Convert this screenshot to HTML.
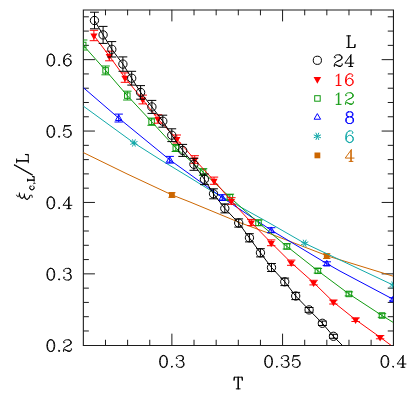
<!DOCTYPE html>
<html><head><meta charset="utf-8"><title>plot</title>
<style>
html,body{margin:0;padding:0;background:#fff;}
svg{display:block;font-family:"Liberation Serif",serif;}
</style></head><body>
<svg width="415" height="415" viewBox="0 0 415 415" role="img" aria-label="Plot of xi_c,L / L versus T for L = 24, 16, 12, 8, 6, 4">
<desc>Finite-size scaling plot: correlation length xi_c,L divided by L as a function of temperature T (0.26 to 0.40), y from 0.2 to 0.67, for lattice sizes L = 24, 16, 12, 8, 6 and 4 with fitted curves crossing near T = 0.32.</desc>
<rect width="415" height="415" fill="#ffffff"/>
<path fill="none" stroke="#1c1c1c" stroke-width="1.1" stroke-linecap="square" d="M83.35 10.00H393.45M83.35 345.50H393.45M83.35 10.00V345.50M393.45 10.00V345.50"/>
<path fill="none" stroke="#1c1c1c" stroke-width="1.0" d="M105.49 345.25v-5.50M105.49 9.80v5.50M127.62 345.25v-5.50M127.62 9.80v5.50M149.76 345.25v-5.50M149.76 9.80v5.50M171.89 345.25v-11.60M171.89 9.80v11.60M194.03 345.25v-5.50M194.03 9.80v5.50M216.16 345.25v-5.50M216.16 9.80v5.50M238.30 345.25v-5.50M238.30 9.80v5.50M260.44 345.25v-5.50M260.44 9.80v5.50M282.57 345.25v-11.60M282.57 9.80v11.60M304.71 345.25v-5.50M304.71 9.80v5.50M326.84 345.25v-5.50M326.84 9.80v5.50M348.98 345.25v-5.50M348.98 9.80v5.50M371.11 345.25v-5.50M371.11 9.80v5.50M83.35 330.97h5.50M393.25 330.97h-5.50M83.35 316.69h5.50M393.25 316.69h-5.50M83.35 302.41h5.50M393.25 302.41h-5.50M83.35 288.13h5.50M393.25 288.13h-5.50M83.35 273.85h11.60M393.25 273.85h-11.60M83.35 259.57h5.50M393.25 259.57h-5.50M83.35 245.29h5.50M393.25 245.29h-5.50M83.35 231.01h5.50M393.25 231.01h-5.50M83.35 216.73h5.50M393.25 216.73h-5.50M83.35 202.45h11.60M393.25 202.45h-11.60M83.35 188.17h5.50M393.25 188.17h-5.50M83.35 173.89h5.50M393.25 173.89h-5.50M83.35 159.61h5.50M393.25 159.61h-5.50M83.35 145.33h5.50M393.25 145.33h-5.50M83.35 131.05h11.60M393.25 131.05h-11.60M83.35 116.77h5.50M393.25 116.77h-5.50M83.35 102.49h5.50M393.25 102.49h-5.50M83.35 88.21h5.50M393.25 88.21h-5.50M83.35 73.93h5.50M393.25 73.93h-5.50M83.35 59.65h11.60M393.25 59.65h-11.60M83.35 45.37h5.50M393.25 45.37h-5.50M83.35 31.09h5.50M393.25 31.09h-5.50M83.35 16.81h5.50M393.25 16.81h-5.50"/>
<clipPath id="cp"><rect x="83.3" y="9.8" width="309.9" height="335.4"/></clipPath>
<g clip-path="url(#cp)">
<polyline fill="none" stroke="#cc6600" stroke-width="1.00" points="83.2,152.5 127.0,173.9 171.9,194.9 190.0,202.0 240.0,222.7 270.0,233.7 320.0,253.0 327.1,255.8 393.2,276.2"/>
<path fill="none" stroke="#cc6600" stroke-width="1.00" d="M171.9 192.7V197.3M168.3 192.7H175.5M168.3 197.3H175.5"/>
<rect x="169.00" y="192.10" width="5.80" height="5.80" fill="#cc6600"/>
<path fill="none" stroke="#cc6600" stroke-width="1.00" d="M326.8 253.8V258.5M323.1 253.8H330.4M323.1 258.5H330.4"/>
<rect x="323.85" y="253.20" width="5.80" height="5.80" fill="#cc6600"/>
<polyline fill="none" stroke="#10a8a8" stroke-width="1.00" points="83.2,106.0 105.0,121.9 133.9,142.9 160.0,159.5 190.0,177.7 212.0,191.3 240.0,206.7 270.0,223.4 304.7,243.3 320.0,250.5 393.2,285.1"/>
<path fill="none" stroke="#10a8a8" stroke-width="1" d="M130.30 141.46L137.50 144.44M132.41 139.35L135.39 146.55M135.39 139.35L132.41 146.55M137.50 141.46L130.30 144.44"/>
<path fill="none" stroke="#10a8a8" stroke-width="1" d="M301.10 241.81L308.30 244.79M303.21 239.70L306.19 246.90M306.19 239.70L303.21 246.90M308.30 241.81L301.10 244.79"/>
<path fill="none" stroke="#10a8a8" stroke-width="1" d="M389.60 283.61L396.80 286.59M391.71 281.50L394.69 288.70M394.69 281.50L391.71 288.70M396.80 283.61L389.60 286.59"/>
<polyline fill="none" stroke="#0000ff" stroke-width="1.00" points="83.2,87.5 118.7,118.1 169.7,159.8 222.3,197.6 271.2,230.2 326.8,263.6 340.0,271.1 393.2,299.3"/>
<path fill="none" stroke="#0000ff" stroke-width="1.00" d="M118.7 114.1V122.0M114.5 114.1H122.9M114.5 122.0H122.9"/>
<path fill="none" stroke="#0000ff" stroke-width="1" stroke-linejoin="miter" d="M115.45 120.47L121.95 120.47L118.70 114.85Z"/>
<path fill="none" stroke="#0000ff" stroke-width="1.00" d="M169.7 156.4V163.1M165.5 156.4H173.9M165.5 163.1H173.9"/>
<path fill="none" stroke="#0000ff" stroke-width="1" stroke-linejoin="miter" d="M166.45 162.12L172.95 162.12L169.70 156.50Z"/>
<path fill="none" stroke="#0000ff" stroke-width="1.00" d="M222.3 194.7V200.5M218.1 194.7H226.5M218.1 200.5H226.5"/>
<path fill="none" stroke="#0000ff" stroke-width="1" stroke-linejoin="miter" d="M219.05 199.97L225.55 199.97L222.30 194.35Z"/>
<path fill="none" stroke="#0000ff" stroke-width="1.00" d="M271.2 227.7V232.7M267.0 227.7H275.4M267.0 232.7H275.4"/>
<path fill="none" stroke="#0000ff" stroke-width="1" stroke-linejoin="miter" d="M267.95 232.57L274.45 232.57L271.20 226.95Z"/>
<path fill="none" stroke="#0000ff" stroke-width="1.00" d="M326.8 261.8V265.4M322.6 261.8H331.0M322.6 265.4H331.0"/>
<path fill="none" stroke="#0000ff" stroke-width="1" stroke-linejoin="miter" d="M323.55 265.98L330.05 265.98L326.80 260.35Z"/>
<path fill="none" stroke="#0000ff" stroke-width="1.00" d="M393.2 297.7V300.9M389.0 297.7H397.4M389.0 300.9H397.4"/>
<path fill="none" stroke="#0000ff" stroke-width="1" stroke-linejoin="miter" d="M389.95 301.68L396.45 301.68L393.20 296.05Z"/>
<polyline fill="none" stroke="#109a10" stroke-width="1.00" points="83.2,45.2 105.6,70.4 127.3,95.6 151.6,121.7 175.8,148.0 203.1,172.0 229.9,197.3 258.5,222.8 286.9,246.4 317.9,270.8 348.9,293.9 382.0,315.5 393.2,322.4"/>
<path fill="none" stroke="#109a10" stroke-width="1.00" d="M83.2 40.0V50.0M79.0 40.0H87.4M79.0 50.0H87.4"/>
<rect x="80.45" y="42.25" width="5.50" height="5.50" fill="none" stroke="#109a10" stroke-width="1"/>
<path fill="none" stroke="#109a10" stroke-width="1.00" d="M105.6 66.0V74.8M101.4 66.0H109.8M101.4 74.8H109.8"/>
<rect x="102.85" y="67.65" width="5.50" height="5.50" fill="none" stroke="#109a10" stroke-width="1"/>
<path fill="none" stroke="#109a10" stroke-width="1.00" d="M127.3 91.2V100.0M123.1 91.2H131.5M123.1 100.0H131.5"/>
<rect x="124.55" y="92.85" width="5.50" height="5.50" fill="none" stroke="#109a10" stroke-width="1"/>
<path fill="none" stroke="#109a10" stroke-width="1.00" d="M151.6 118.1V125.3M147.4 118.1H155.8M147.4 125.3H155.8"/>
<rect x="148.85" y="118.95" width="5.50" height="5.50" fill="none" stroke="#109a10" stroke-width="1"/>
<path fill="none" stroke="#109a10" stroke-width="1.00" d="M175.8 144.5V151.5M171.6 144.5H180.0M171.6 151.5H180.0"/>
<rect x="173.05" y="145.25" width="5.50" height="5.50" fill="none" stroke="#109a10" stroke-width="1"/>
<path fill="none" stroke="#109a10" stroke-width="1.00" d="M203.1 168.7V175.3M198.9 168.7H207.3M198.9 175.3H207.3"/>
<rect x="200.35" y="169.25" width="5.50" height="5.50" fill="none" stroke="#109a10" stroke-width="1"/>
<path fill="none" stroke="#109a10" stroke-width="1.00" d="M229.9 194.2V200.4M225.7 194.2H234.1M225.7 200.4H234.1"/>
<rect x="227.15" y="194.55" width="5.50" height="5.50" fill="none" stroke="#109a10" stroke-width="1"/>
<path fill="none" stroke="#109a10" stroke-width="1.00" d="M258.5 219.9V225.7M254.3 219.9H262.7M254.3 225.7H262.7"/>
<rect x="255.75" y="220.05" width="5.50" height="5.50" fill="none" stroke="#109a10" stroke-width="1"/>
<path fill="none" stroke="#109a10" stroke-width="1.00" d="M286.9 243.8V249.0M282.7 243.8H291.1M282.7 249.0H291.1"/>
<rect x="284.15" y="243.65" width="5.50" height="5.50" fill="none" stroke="#109a10" stroke-width="1"/>
<path fill="none" stroke="#109a10" stroke-width="1.00" d="M317.9 268.5V273.1M313.7 268.5H322.1M313.7 273.1H322.1"/>
<rect x="315.15" y="268.05" width="5.50" height="5.50" fill="none" stroke="#109a10" stroke-width="1"/>
<path fill="none" stroke="#109a10" stroke-width="1.00" d="M348.9 291.9V295.9M344.7 291.9H353.1M344.7 295.9H353.1"/>
<rect x="346.15" y="291.20" width="5.50" height="5.50" fill="none" stroke="#109a10" stroke-width="1"/>
<path fill="none" stroke="#109a10" stroke-width="1.00" d="M382.0 313.7V317.3M377.8 313.7H386.2M377.8 317.3H386.2"/>
<rect x="379.25" y="312.75" width="5.50" height="5.50" fill="none" stroke="#109a10" stroke-width="1"/>
<polyline fill="none" stroke="#ff0000" stroke-width="1.00" points="93.9,35.5 109.3,56.0 124.9,77.6 142.7,99.5 158.0,119.0 176.8,139.0 194.7,159.5 214.0,180.7 231.4,201.0 251.3,222.5 271.2,242.8 291.2,262.7 313.6,282.6 333.4,302.0 355.6,319.7 380.1,337.2 391.0,345.3"/>
<path fill="none" stroke="#ff0000" stroke-width="1.00" d="M93.9 30.3V40.7M89.7 30.3H98.1M89.7 40.7H98.1"/>
<path fill="#ff0000" d="M90.31 33.62L97.49 33.62L93.90 39.85Z"/>
<path fill="none" stroke="#ff0000" stroke-width="1.00" d="M109.3 51.2V60.8M105.1 51.2H113.5M105.1 60.8H113.5"/>
<path fill="#ff0000" d="M105.71 54.12L112.89 54.12L109.30 60.35Z"/>
<path fill="none" stroke="#ff0000" stroke-width="1.00" d="M124.9 72.9V82.3M120.7 72.9H129.1M120.7 82.3H129.1"/>
<path fill="#ff0000" d="M121.31 75.72L128.49 75.72L124.90 81.95Z"/>
<path fill="none" stroke="#ff0000" stroke-width="1.00" d="M142.7 95.1V103.9M138.5 95.1H146.9M138.5 103.9H146.9"/>
<path fill="#ff0000" d="M139.11 97.62L146.29 97.62L142.70 103.85Z"/>
<path fill="none" stroke="#ff0000" stroke-width="1.00" d="M158.0 114.8V123.2M153.8 114.8H162.2M153.8 123.2H162.2"/>
<path fill="#ff0000" d="M154.41 117.12L161.59 117.12L158.00 123.35Z"/>
<path fill="none" stroke="#ff0000" stroke-width="1.00" d="M176.8 135.0V143.0M172.6 135.0H181.0M172.6 143.0H181.0"/>
<path fill="#ff0000" d="M173.21 137.12L180.39 137.12L176.80 143.35Z"/>
<path fill="none" stroke="#ff0000" stroke-width="1.00" d="M194.7 155.7V163.3M190.5 155.7H198.9M190.5 163.3H198.9"/>
<path fill="#ff0000" d="M191.11 157.62L198.29 157.62L194.70 163.85Z"/>
<path fill="none" stroke="#ff0000" stroke-width="1.00" d="M214.0 177.1V184.3M209.8 177.1H218.2M209.8 184.3H218.2"/>
<path fill="#ff0000" d="M210.41 178.82L217.59 178.82L214.00 185.05Z"/>
<path fill="none" stroke="#ff0000" stroke-width="1.00" d="M231.4 197.7V204.3M227.2 197.7H235.6M227.2 204.3H235.6"/>
<path fill="#ff0000" d="M227.81 199.12L234.99 199.12L231.40 205.35Z"/>
<path fill="none" stroke="#ff0000" stroke-width="1.00" d="M251.3 219.4V225.6M247.1 219.4H255.5M247.1 225.6H255.5"/>
<path fill="#ff0000" d="M247.71 220.62L254.89 220.62L251.30 226.85Z"/>
<path fill="none" stroke="#ff0000" stroke-width="1.00" d="M271.2 239.9V245.7M267.0 239.9H275.4M267.0 245.7H275.4"/>
<path fill="#ff0000" d="M267.61 240.93L274.79 240.93L271.20 247.15Z"/>
<path fill="none" stroke="#ff0000" stroke-width="1.00" d="M291.2 260.1V265.3M287.0 260.1H295.4M287.0 265.3H295.4"/>
<path fill="#ff0000" d="M287.61 260.82L294.79 260.82L291.20 267.05Z"/>
<path fill="none" stroke="#ff0000" stroke-width="1.00" d="M313.6 280.3V284.9M309.4 280.3H317.8M309.4 284.9H317.8"/>
<path fill="#ff0000" d="M310.01 280.73L317.19 280.73L313.60 286.95Z"/>
<path fill="none" stroke="#ff0000" stroke-width="1.00" d="M333.4 300.0V304.0M329.2 300.0H337.6M329.2 304.0H337.6"/>
<path fill="#ff0000" d="M329.81 300.12L336.99 300.12L333.40 306.35Z"/>
<path fill="none" stroke="#ff0000" stroke-width="1.00" d="M355.6 317.9V321.5M351.4 317.9H359.8M351.4 321.5H359.8"/>
<path fill="#ff0000" d="M352.01 317.82L359.19 317.82L355.60 324.05Z"/>
<path fill="none" stroke="#ff0000" stroke-width="1.00" d="M380.1 335.6V338.8M375.9 335.6H384.3M375.9 338.8H384.3"/>
<path fill="#ff0000" d="M376.51 335.32L383.69 335.32L380.10 341.55Z"/>
<polyline fill="none" stroke="#000000" stroke-width="1.00" points="94.5,20.5 103.1,34.9 111.8,49.3 122.9,64.1 131.7,78.2 140.6,92.4 151.9,106.9 162.8,121.2 171.8,135.2 182.7,150.4 193.9,164.3 204.4,179.3 213.5,193.8 224.8,208.4 238.7,223.0 249.4,237.8 260.4,252.8 271.5,267.5 284.8,281.8 295.7,296.0 309.1,309.9 322.4,323.3 333.4,336.3 342.3,345.3"/>
<path fill="none" stroke="#000000" stroke-width="1.00" d="M94.5 12.2V28.8M90.0 12.2H98.9M90.0 28.8H98.9"/>
<circle cx="94.45" cy="20.50" r="4.15" fill="none" stroke="#000000" stroke-width="1"/>
<path fill="none" stroke="#000000" stroke-width="1.00" d="M103.1 26.4V43.4M98.7 26.4H107.5M98.7 43.4H107.5"/>
<circle cx="103.10" cy="34.90" r="4.15" fill="none" stroke="#000000" stroke-width="1"/>
<path fill="none" stroke="#000000" stroke-width="1.00" d="M111.8 41.6V57.0M107.4 41.6H116.2M107.4 57.0H116.2"/>
<circle cx="111.80" cy="49.30" r="4.15" fill="none" stroke="#000000" stroke-width="1"/>
<path fill="none" stroke="#000000" stroke-width="1.00" d="M122.9 56.9V71.3M118.5 56.9H127.3M118.5 71.3H127.3"/>
<circle cx="122.90" cy="64.10" r="4.15" fill="none" stroke="#000000" stroke-width="1"/>
<path fill="none" stroke="#000000" stroke-width="1.00" d="M131.7 71.3V85.1M127.3 71.3H136.1M127.3 85.1H136.1"/>
<circle cx="131.70" cy="78.20" r="4.15" fill="none" stroke="#000000" stroke-width="1"/>
<path fill="none" stroke="#000000" stroke-width="1.00" d="M140.6 85.6V99.2M136.2 85.6H145.0M136.2 99.2H145.0"/>
<circle cx="140.60" cy="92.40" r="4.15" fill="none" stroke="#000000" stroke-width="1"/>
<path fill="none" stroke="#000000" stroke-width="1.00" d="M151.9 100.4V113.4M147.5 100.4H156.3M147.5 113.4H156.3"/>
<circle cx="151.90" cy="106.90" r="4.15" fill="none" stroke="#000000" stroke-width="1"/>
<path fill="none" stroke="#000000" stroke-width="1.00" d="M162.8 115.2V127.2M158.4 115.2H167.2M158.4 127.2H167.2"/>
<circle cx="162.80" cy="121.20" r="4.15" fill="none" stroke="#000000" stroke-width="1"/>
<path fill="none" stroke="#000000" stroke-width="1.00" d="M171.8 128.8V141.6M167.3 128.8H176.2M167.3 141.6H176.2"/>
<circle cx="171.75" cy="135.20" r="4.15" fill="none" stroke="#000000" stroke-width="1"/>
<path fill="none" stroke="#000000" stroke-width="1.00" d="M182.7 144.4V156.4M178.3 144.4H187.1M178.3 156.4H187.1"/>
<circle cx="182.70" cy="150.40" r="4.15" fill="none" stroke="#000000" stroke-width="1"/>
<path fill="none" stroke="#000000" stroke-width="1.00" d="M193.9 158.3V170.3M189.5 158.3H198.3M189.5 170.3H198.3"/>
<circle cx="193.90" cy="164.30" r="4.15" fill="none" stroke="#000000" stroke-width="1"/>
<path fill="none" stroke="#000000" stroke-width="1.00" d="M204.4 174.0V184.6M200.0 174.0H208.8M200.0 184.6H208.8"/>
<circle cx="204.40" cy="179.30" r="4.15" fill="none" stroke="#000000" stroke-width="1"/>
<path fill="none" stroke="#000000" stroke-width="1.00" d="M213.5 188.8V198.8M209.1 188.8H217.9M209.1 198.8H217.9"/>
<circle cx="213.50" cy="193.80" r="4.15" fill="none" stroke="#000000" stroke-width="1"/>
<path fill="none" stroke="#000000" stroke-width="1.00" d="M224.8 203.9V212.9M220.4 203.9H229.2M220.4 212.9H229.2"/>
<circle cx="224.80" cy="208.40" r="4.15" fill="none" stroke="#000000" stroke-width="1"/>
<path fill="none" stroke="#000000" stroke-width="1.00" d="M238.7 218.9V227.1M234.3 218.9H243.1M234.3 227.1H243.1"/>
<circle cx="238.70" cy="223.00" r="4.15" fill="none" stroke="#000000" stroke-width="1"/>
<path fill="none" stroke="#000000" stroke-width="1.00" d="M249.4 233.7V241.9M245.0 233.7H253.8M245.0 241.9H253.8"/>
<circle cx="249.45" cy="237.80" r="4.15" fill="none" stroke="#000000" stroke-width="1"/>
<path fill="none" stroke="#000000" stroke-width="1.00" d="M260.4 248.7V256.9M256.1 248.7H264.8M256.1 256.9H264.8"/>
<circle cx="260.45" cy="252.80" r="4.15" fill="none" stroke="#000000" stroke-width="1"/>
<path fill="none" stroke="#000000" stroke-width="1.00" d="M271.5 263.5V271.5M267.1 263.5H275.9M267.1 271.5H275.9"/>
<circle cx="271.50" cy="267.50" r="4.15" fill="none" stroke="#000000" stroke-width="1"/>
<path fill="none" stroke="#000000" stroke-width="1.00" d="M284.8 278.1V285.6M280.4 278.1H289.1M280.4 285.6H289.1"/>
<circle cx="284.75" cy="281.80" r="4.15" fill="none" stroke="#000000" stroke-width="1"/>
<path fill="none" stroke="#000000" stroke-width="1.00" d="M295.7 292.4V299.6M291.3 292.4H300.1M291.3 299.6H300.1"/>
<circle cx="295.70" cy="296.00" r="4.15" fill="none" stroke="#000000" stroke-width="1"/>
<path fill="none" stroke="#000000" stroke-width="1.00" d="M309.1 307.5V312.3M304.7 307.5H313.5M304.7 312.3H313.5"/>
<circle cx="309.10" cy="309.90" r="4.15" fill="none" stroke="#000000" stroke-width="1"/>
<path fill="none" stroke="#000000" stroke-width="1.00" d="M322.4 321.1V325.5M318.0 321.1H326.8M318.0 325.5H326.8"/>
<circle cx="322.35" cy="323.30" r="4.15" fill="none" stroke="#000000" stroke-width="1"/>
<path fill="none" stroke="#000000" stroke-width="1.00" d="M333.4 334.3V338.3M329.1 334.3H337.8M329.1 338.3H337.8"/>
<circle cx="333.45" cy="336.30" r="4.15" fill="none" stroke="#000000" stroke-width="1"/>
</g>
<circle cx="317.35" cy="60.30" r="4.10" fill="none" stroke="#000000" stroke-width="1"/>
<path fill="#ff0000" d="M313.54 77.10L321.16 77.10L317.35 83.70Z"/>
<rect x="314.70" y="95.70" width="5.50" height="5.50" fill="none" stroke="#109a10" stroke-width="1"/>
<path fill="none" stroke="#0000ff" stroke-width="1" stroke-linejoin="miter" d="M314.10 119.22L320.60 119.22L317.35 113.60Z"/>
<path fill="none" stroke="#10a8a8" stroke-width="1" d="M313.75 134.86L320.95 137.84M315.86 132.75L318.84 139.95M318.84 132.75L315.86 139.95M320.95 134.86L313.75 137.84"/>
<rect x="314.50" y="152.50" width="5.80" height="5.80" fill="#cc6600"/>
<path fill="none" stroke="#000000" stroke-width="0.95" stroke-linecap="round" stroke-linejoin="round" d="M162.97 355.64L161.31 356.2L160.19 357.87L159.64 360.64L159.64 362.31L160.19 365.08L161.31 366.75L162.97 367.3L164.08 367.3L165.75 366.75L166.85 365.08L167.41 362.31L167.41 360.64L166.85 357.87L165.75 356.2L164.08 355.64L162.97 355.64M162.97 355.64L161.86 356.2L161.31 356.75L160.75 357.87L160.19 360.64L160.19 362.31L160.75 365.08L161.31 366.19L161.86 366.75L162.97 367.3M164.08 367.3L165.19 366.75L165.75 366.19L166.3 365.08L166.85 362.31L166.85 360.64L166.3 357.87L165.75 356.75L165.19 356.2L164.08 355.64M171.85 366.19L171.29 366.75L171.85 367.3L172.41 366.75L171.85 366.19M176.84 357.87L177.4 358.42L176.84 358.98L176.29 358.42L176.29 357.87L176.84 356.75L177.4 356.2L179.06 355.64L181.28 355.64L182.95 356.2L183.5 357.31L183.5 358.98L182.95 360.09L181.28 360.64L179.62 360.64M181.28 355.64L182.39 356.2L182.95 357.31L182.95 358.98L182.39 360.09L181.28 360.64M181.28 360.64L182.39 361.19L183.5 362.31L184.06 363.42L184.06 365.08L183.5 366.19L182.95 366.75L181.28 367.3L179.06 367.3L177.4 366.75L176.84 366.19L176.29 365.08L176.29 364.53L176.84 363.97L177.4 364.53L176.84 365.08M182.95 361.75L183.5 363.42L183.5 365.08L182.95 366.19L182.39 366.75L181.28 367.3"/>
<circle cx="171.85" cy="366.75" r="0.80" fill="#000000"/>
<path fill="none" stroke="#000000" stroke-width="0.95" stroke-linecap="round" stroke-linejoin="round" d="M268.02 355.64L266.36 356.2L265.25 357.87L264.69 360.64L264.69 362.31L265.25 365.08L266.36 366.75L268.02 367.3L269.13 367.3L270.79 366.75L271.9 365.08L272.46 362.31L272.46 360.64L271.9 357.87L270.79 356.2L269.13 355.64L268.02 355.64M268.02 355.64L266.91 356.2L266.36 356.75L265.8 357.87L265.25 360.64L265.25 362.31L265.8 365.08L266.36 366.19L266.91 366.75L268.02 367.3M269.13 367.3L270.24 366.75L270.79 366.19L271.35 365.08L271.9 362.31L271.9 360.64L271.35 357.87L270.79 356.75L270.24 356.2L269.13 355.64M276.9 366.19L276.34 366.75L276.9 367.3L277.45 366.75L276.9 366.19M281.89 357.87L282.45 358.42L281.89 358.98L281.34 358.42L281.34 357.87L281.89 356.75L282.45 356.2L284.12 355.64L286.33 355.64L288 356.2L288.56 357.31L288.56 358.98L288 360.09L286.33 360.64L284.67 360.64M286.33 355.64L287.44 356.2L288 357.31L288 358.98L287.44 360.09L286.33 360.64M286.33 360.64L287.44 361.19L288.56 362.31L289.11 363.42L289.11 365.08L288.56 366.19L288 366.75L286.33 367.3L284.12 367.3L282.45 366.75L281.89 366.19L281.34 365.08L281.34 364.53L281.89 363.97L282.45 364.53L281.89 365.08M288 361.75L288.56 363.42L288.56 365.08L288 366.19L287.44 366.75L286.33 367.3M293.55 355.64L292.44 361.19M292.44 361.19L293.55 360.09L295.21 359.53L296.88 359.53L298.55 360.09L299.65 361.19L300.21 362.86L300.21 363.97L299.65 365.63L298.55 366.75L296.88 367.3L295.21 367.3L293.55 366.75L293 366.19L292.44 365.08L292.44 364.53L293 363.97L293.55 364.53L293 365.08M296.88 359.53L297.99 360.09L299.1 361.19L299.65 362.86L299.65 363.97L299.1 365.63L297.99 366.75L296.88 367.3M293.55 355.64L299.1 355.64M293.55 356.2L296.32 356.2L299.1 355.64"/>
<circle cx="276.90" cy="366.75" r="0.80" fill="#000000"/>
<path fill="none" stroke="#000000" stroke-width="0.95" stroke-linecap="round" stroke-linejoin="round" d="M384.32 355.64L382.65 356.2L381.54 357.87L380.99 360.64L380.99 362.31L381.54 365.08L382.65 366.75L384.32 367.3L385.43 367.3L387.09 366.75L388.2 365.08L388.76 362.31L388.76 360.64L388.2 357.87L387.09 356.2L385.43 355.64L384.32 355.64M384.32 355.64L383.21 356.2L382.65 356.75L382.1 357.87L381.54 360.64L381.54 362.31L382.1 365.08L382.65 366.19L383.21 366.75L384.32 367.3M385.43 367.3L386.54 366.75L387.09 366.19L387.65 365.08L388.2 362.31L388.2 360.64L387.65 357.87L387.09 356.75L386.54 356.2L385.43 355.64M393.2 366.19L392.64 366.75L393.2 367.3L393.75 366.75L393.2 366.19M402.63 356.75L402.63 367.3M403.19 355.64L403.19 367.3M403.19 355.64L397.08 363.97L405.96 363.97M400.97 367.3L404.86 367.3"/>
<circle cx="393.20" cy="366.75" r="0.80" fill="#000000"/>
<path fill="none" stroke="#000000" stroke-width="0.95" stroke-linecap="round" stroke-linejoin="round" d="M50.24 339.79L48.58 340.35L47.47 342.01L46.91 344.79L46.91 346.45L47.47 349.23L48.58 350.89L50.24 351.45L51.35 351.45L53.02 350.89L54.13 349.23L54.68 346.45L54.68 344.79L54.13 342.01L53.02 340.35L51.35 339.79L50.24 339.79M50.24 339.79L49.13 340.35L48.58 340.9L48.02 342.01L47.47 344.79L47.47 346.45L48.02 349.23L48.58 350.34L49.13 350.89L50.24 351.45M51.35 351.45L52.46 350.89L53.02 350.34L53.57 349.23L54.13 346.45L54.13 344.79L53.57 342.01L53.02 340.9L52.46 340.35L51.35 339.79M59.12 350.34L58.57 350.89L59.12 351.45L59.68 350.89L59.12 350.34M64.12 342.01L64.67 342.57L64.12 343.12L63.56 342.57L63.56 342.01L64.12 340.9L64.67 340.35L66.34 339.79L68.56 339.79L70.22 340.35L70.78 340.9L71.33 342.01L71.33 343.12L70.78 344.24L69.11 345.34L66.34 346.45L65.23 347.01L64.12 348.12L63.56 349.78L63.56 351.45M68.56 339.79L69.67 340.35L70.22 340.9L70.78 342.01L70.78 343.12L70.22 344.24L68.56 345.34L66.34 346.45M63.56 350.34L64.12 349.78L65.23 349.78L68 350.89L69.67 350.89L70.78 350.34L71.33 349.78M65.23 349.78L68 351.45L70.22 351.45L70.78 350.89L71.33 349.78L71.33 348.68"/>
<circle cx="59.12" cy="350.89" r="0.80" fill="#000000"/>
<path fill="none" stroke="#000000" stroke-width="0.95" stroke-linecap="round" stroke-linejoin="round" d="M50.24 268.39L48.58 268.95L47.47 270.62L46.91 273.39L46.91 275.06L47.47 277.83L48.58 279.5L50.24 280.05L51.35 280.05L53.02 279.5L54.13 277.83L54.68 275.06L54.68 273.39L54.13 270.62L53.02 268.95L51.35 268.39L50.24 268.39M50.24 268.39L49.13 268.95L48.58 269.5L48.02 270.62L47.47 273.39L47.47 275.06L48.02 277.83L48.58 278.94L49.13 279.5L50.24 280.05M51.35 280.05L52.46 279.5L53.02 278.94L53.57 277.83L54.13 275.06L54.13 273.39L53.57 270.62L53.02 269.5L52.46 268.95L51.35 268.39M59.12 278.94L58.57 279.5L59.12 280.05L59.68 279.5L59.12 278.94M64.12 270.62L64.67 271.17L64.12 271.73L63.56 271.17L63.56 270.62L64.12 269.5L64.67 268.95L66.34 268.39L68.56 268.39L70.22 268.95L70.78 270.06L70.78 271.73L70.22 272.84L68.56 273.39L66.89 273.39M68.56 268.39L69.67 268.95L70.22 270.06L70.22 271.73L69.67 272.84L68.56 273.39M68.56 273.39L69.67 273.94L70.78 275.06L71.33 276.17L71.33 277.83L70.78 278.94L70.22 279.5L68.56 280.05L66.34 280.05L64.67 279.5L64.12 278.94L63.56 277.83L63.56 277.28L64.12 276.72L64.67 277.28L64.12 277.83M70.22 274.5L70.78 276.17L70.78 277.83L70.22 278.94L69.67 279.5L68.56 280.05"/>
<circle cx="59.12" cy="279.50" r="0.80" fill="#000000"/>
<path fill="none" stroke="#000000" stroke-width="0.95" stroke-linecap="round" stroke-linejoin="round" d="M50.24 196.99L48.58 197.55L47.47 199.21L46.91 201.99L46.91 203.65L47.47 206.43L48.58 208.09L50.24 208.65L51.35 208.65L53.02 208.09L54.13 206.43L54.68 203.65L54.68 201.99L54.13 199.21L53.02 197.55L51.35 196.99L50.24 196.99M50.24 196.99L49.13 197.55L48.58 198.1L48.02 199.21L47.47 201.99L47.47 203.65L48.02 206.43L48.58 207.54L49.13 208.09L50.24 208.65M51.35 208.65L52.46 208.09L53.02 207.54L53.57 206.43L54.13 203.65L54.13 201.99L53.57 199.21L53.02 198.1L52.46 197.55L51.35 196.99M59.12 207.54L58.57 208.09L59.12 208.65L59.68 208.09L59.12 207.54M68.56 198.1L68.56 208.65M69.11 196.99L69.11 208.65M69.11 196.99L63.01 205.32L71.89 205.32M66.89 208.65L70.78 208.65"/>
<circle cx="59.12" cy="208.09" r="0.80" fill="#000000"/>
<path fill="none" stroke="#000000" stroke-width="0.95" stroke-linecap="round" stroke-linejoin="round" d="M50.24 125.59L48.58 126.15L47.47 127.81L46.91 130.59L46.91 132.25L47.47 135.03L48.58 136.69L50.24 137.25L51.35 137.25L53.02 136.69L54.13 135.03L54.68 132.25L54.68 130.59L54.13 127.81L53.02 126.15L51.35 125.59L50.24 125.59M50.24 125.59L49.13 126.15L48.58 126.7L48.02 127.81L47.47 130.59L47.47 132.25L48.02 135.03L48.58 136.14L49.13 136.69L50.24 137.25M51.35 137.25L52.46 136.69L53.02 136.14L53.57 135.03L54.13 132.25L54.13 130.59L53.57 127.81L53.02 126.7L52.46 126.15L51.35 125.59M59.12 136.14L58.57 136.69L59.12 137.25L59.68 136.69L59.12 136.14M64.67 125.59L63.56 131.15M63.56 131.15L64.67 130.03L66.34 129.48L68 129.48L69.67 130.03L70.78 131.15L71.33 132.81L71.33 133.92L70.78 135.59L69.67 136.69L68 137.25L66.34 137.25L64.67 136.69L64.12 136.14L63.56 135.03L63.56 134.47L64.12 133.92L64.67 134.47L64.12 135.03M68 129.48L69.11 130.03L70.22 131.15L70.78 132.81L70.78 133.92L70.22 135.59L69.11 136.69L68 137.25M64.67 125.59L70.22 125.59M64.67 126.15L67.45 126.15L70.22 125.59"/>
<circle cx="59.12" cy="136.69" r="0.80" fill="#000000"/>
<path fill="none" stroke="#000000" stroke-width="0.95" stroke-linecap="round" stroke-linejoin="round" d="M50.24 54.2L48.58 54.75L47.47 56.42L46.91 59.19L46.91 60.86L47.47 63.63L48.58 65.3L50.24 65.85L51.35 65.85L53.02 65.3L54.13 63.63L54.68 60.86L54.68 59.19L54.13 56.42L53.02 54.75L51.35 54.2L50.24 54.2M50.24 54.2L49.13 54.75L48.58 55.31L48.02 56.42L47.47 59.19L47.47 60.86L48.02 63.63L48.58 64.74L49.13 65.3L50.24 65.85M51.35 65.85L52.46 65.3L53.02 64.74L53.57 63.63L54.13 60.86L54.13 59.19L53.57 56.42L53.02 55.31L52.46 54.75L51.35 54.2M59.12 64.74L58.57 65.3L59.12 65.85L59.68 65.3L59.12 64.74M70.22 55.86L69.67 56.42L70.22 56.97L70.78 56.42L70.78 55.86L70.22 54.75L69.11 54.2L67.45 54.2L65.78 54.75L64.67 55.86L64.12 56.97L63.56 59.19L63.56 62.52L64.12 64.19L65.23 65.3L66.89 65.85L68 65.85L69.67 65.3L70.78 64.19L71.33 62.52L71.33 61.97L70.78 60.3L69.67 59.19L68 58.64L67.45 58.64L65.78 59.19L64.67 60.3L64.12 61.97M67.45 54.2L66.34 54.75L65.23 55.86L64.67 56.97L64.12 59.19L64.12 62.52L64.67 64.19L65.78 65.3L66.89 65.85M68 65.85L69.11 65.3L70.22 64.19L70.78 62.52L70.78 61.97L70.22 60.3L69.11 59.19L68 58.64"/>
<circle cx="59.12" cy="65.30" r="0.80" fill="#000000"/>
<path fill="none" stroke="#000000" stroke-width="0.95" stroke-linecap="round" stroke-linejoin="round" d="M237.92 377.2L237.92 388.85M238.48 377.2L238.48 388.85M234.59 377.2L234.04 380.53L234.04 377.2L242.36 377.2L242.36 380.53L241.81 377.2M236.26 388.85L240.14 388.85"/>
<path fill="none" stroke="#000000" stroke-width="0.95" stroke-linecap="round" stroke-linejoin="round" d="M348.39 35.84L348.39 47.5M348.94 35.84L348.94 47.5M346.72 35.84L350.61 35.84M346.72 47.5L355.05 47.5L355.05 44.17L354.49 47.5"/>
<path fill="none" stroke="#000000" stroke-width="0.95" stroke-linecap="round" stroke-linejoin="round" d="M334.92 57.06L335.47 57.62L334.92 58.17L334.36 57.62L334.36 57.06L334.92 55.95L335.47 55.4L337.14 54.84L339.36 54.84L341.02 55.4L341.58 55.95L342.13 57.06L342.13 58.17L341.58 59.28L339.91 60.39L337.14 61.51L336.03 62.06L334.92 63.17L334.36 64.83L334.36 66.5M339.36 54.84L340.47 55.4L341.02 55.95L341.58 57.06L341.58 58.17L341.02 59.28L339.36 60.39L337.14 61.51M334.36 65.39L334.92 64.83L336.03 64.83L338.8 65.94L340.47 65.94L341.58 65.39L342.13 64.83M336.03 64.83L338.8 66.5L341.02 66.5L341.58 65.94L342.13 64.83L342.13 63.73M350.46 55.95L350.46 66.5M351.01 54.84L351.01 66.5M351.01 54.84L344.91 63.17L353.79 63.17M348.79 66.5L352.68 66.5"/>
<path fill="none" stroke="#ff0000" stroke-width="0.95" stroke-linecap="round" stroke-linejoin="round" d="M336.13 76.06L337.24 75.51L338.9 73.84L338.9 85.5M338.35 74.4L338.35 85.5M336.13 85.5L341.12 85.5M352.23 75.51L351.67 76.06L352.23 76.62L352.78 76.06L352.78 75.51L352.23 74.4L351.12 73.84L349.45 73.84L347.79 74.4L346.68 75.51L346.12 76.62L345.56 78.84L345.56 82.17L346.12 83.83L347.23 84.94L348.89 85.5L350 85.5L351.67 84.94L352.78 83.83L353.33 82.17L353.33 81.61L352.78 79.95L351.67 78.84L350 78.28L349.45 78.28L347.79 78.84L346.68 79.95L346.12 81.61M349.45 73.84L348.34 74.4L347.23 75.51L346.68 76.62L346.12 78.84L346.12 82.17L346.68 83.83L347.79 84.94L348.89 85.5M350 85.5L351.12 84.94L352.23 83.83L352.78 82.17L352.78 81.61L352.23 79.95L351.12 78.84L350 78.28"/>
<path fill="none" stroke="#109a10" stroke-width="0.95" stroke-linecap="round" stroke-linejoin="round" d="M336.13 94.97L337.24 94.41L338.9 92.75L338.9 104.4M338.35 93.3L338.35 104.4M336.13 104.4L341.12 104.4M346.12 94.97L346.68 95.52L346.12 96.08L345.56 95.52L345.56 94.97L346.12 93.86L346.68 93.3L348.34 92.75L350.56 92.75L352.23 93.3L352.78 93.86L353.33 94.97L353.33 96.08L352.78 97.19L351.12 98.3L348.34 99.41L347.23 99.96L346.12 101.07L345.56 102.73L345.56 104.4M350.56 92.75L351.67 93.3L352.23 93.86L352.78 94.97L352.78 96.08L352.23 97.19L350.56 98.3L348.34 99.41M345.56 103.29L346.12 102.73L347.23 102.73L350 103.84L351.67 103.84L352.78 103.29L353.33 102.73M347.23 102.73L350 104.4L352.23 104.4L352.78 103.84L353.33 102.73L353.33 101.62"/>
<path fill="none" stroke="#0000ff" stroke-width="0.95" stroke-linecap="round" stroke-linejoin="round" d="M348.54 111.84L346.88 112.4L346.32 113.51L346.32 115.17L346.88 116.28L348.54 116.84L350.76 116.84L352.43 116.28L352.98 115.17L352.98 113.51L352.43 112.4L350.76 111.84L348.54 111.84M348.54 111.84L347.43 112.4L346.88 113.51L346.88 115.17L347.43 116.28L348.54 116.84M350.76 116.84L351.87 116.28L352.43 115.17L352.43 113.51L351.87 112.4L350.76 111.84M348.54 116.84L346.88 117.39L346.32 117.95L345.76 119.06L345.76 121.28L346.32 122.39L346.88 122.94L348.54 123.5L350.76 123.5L352.43 122.94L352.98 122.39L353.53 121.28L353.53 119.06L352.98 117.95L352.43 117.39L350.76 116.84M348.54 116.84L347.43 117.39L346.88 117.95L346.32 119.06L346.32 121.28L346.88 122.39L347.43 122.94L348.54 123.5M350.76 123.5L351.87 122.94L352.43 122.39L352.98 121.28L352.98 119.06L352.43 117.95L351.87 117.39L350.76 116.84"/>
<path fill="none" stroke="#10a8a8" stroke-width="0.95" stroke-linecap="round" stroke-linejoin="round" d="M352.43 132.51L351.87 133.06L352.43 133.62L352.98 133.06L352.98 132.51L352.43 131.4L351.31 130.84L349.65 130.84L347.99 131.4L346.88 132.51L346.32 133.62L345.76 135.84L345.76 139.17L346.32 140.84L347.43 141.94L349.09 142.5L350.2 142.5L351.87 141.94L352.98 140.84L353.53 139.17L353.53 138.62L352.98 136.95L351.87 135.84L350.2 135.28L349.65 135.28L347.99 135.84L346.88 136.95L346.32 138.62M349.65 130.84L348.54 131.4L347.43 132.51L346.88 133.62L346.32 135.84L346.32 139.17L346.88 140.84L347.99 141.94L349.09 142.5M350.2 142.5L351.31 141.94L352.43 140.84L352.98 139.17L352.98 138.62L352.43 136.95L351.31 135.84L350.2 135.28"/>
<path fill="none" stroke="#cc6600" stroke-width="0.95" stroke-linecap="round" stroke-linejoin="round" d="M350.76 150.86L350.76 161.4M351.31 149.75L351.31 161.4M351.31 149.75L345.21 158.07L354.09 158.07M349.09 161.4L352.98 161.4"/>
<path fill="none" stroke="#000000" stroke-width="0.95" stroke-linecap="round" stroke-linejoin="round" d="M16.64 195.09L17.2 196.2L17.75 196.76L18.31 196.76L18.87 196.2L19.42 194.54L19.42 192.88M19.42 194.54L19.98 196.76L20.53 197.87L21.64 198.42L22.75 198.42L23.86 197.31L24.41 195.65L24.41 193.98M19.42 194.54L19.98 196.2L20.53 197.31L21.64 197.87L22.75 197.87L23.86 196.76L24.41 195.65M24.41 195.65L24.97 197.87L25.52 198.98L26.64 199.53L27.75 199.53L28.86 198.42L29.96 195.65L30.52 195.09L31.63 195.09L32.19 196.2L32.19 197.31M24.41 195.65L24.97 197.31L25.52 198.42L26.64 198.98L27.75 198.98L28.86 197.87L29.96 195.65"/>
<path fill="none" stroke="#000000" stroke-width="1.00" stroke-linecap="round" stroke-linejoin="round" d="M30.69 186.18L31 186.49L31.31 186.18L31 185.87L30.69 185.87L30.07 186.49L29.76 187.11L29.76 188.04L30.07 188.97L30.69 189.59L31.62 189.9L32.24 189.9L33.17 189.59L33.79 188.97L34.1 188.04L34.1 187.42L33.79 186.49L33.17 185.87M29.76 188.04L30.07 188.66L30.69 189.28L31.62 189.59L32.24 189.59L33.17 189.28L33.79 188.66L34.1 188.04M34.1 183.39L33.79 183.7L33.48 183.39L33.79 183.08L34.41 183.08L35.03 183.39L35.34 183.7M27.59 180.29L34.1 180.29M27.59 179.98L34.1 179.98M27.59 181.22L27.59 179.05M34.1 181.22L34.1 176.57L32.24 176.57L34.1 176.88"/>
<path fill="none" stroke="#000000" stroke-width="0.95" stroke-linecap="round" stroke-linejoin="round" d="M14.42 165.2L32.19 175.19L32.19 174.64M14.42 165.2L14.42 164.65L32.19 174.64"/>
<path fill="none" stroke="#000000" stroke-width="0.95" stroke-linecap="round" stroke-linejoin="round" d="M16.64 161.12L28.3 161.12M16.64 160.56L28.3 160.56M16.64 162.78L16.64 158.9M28.3 162.78L28.3 154.46L24.97 154.46L28.3 155.02"/>
</svg>
</body></html>
